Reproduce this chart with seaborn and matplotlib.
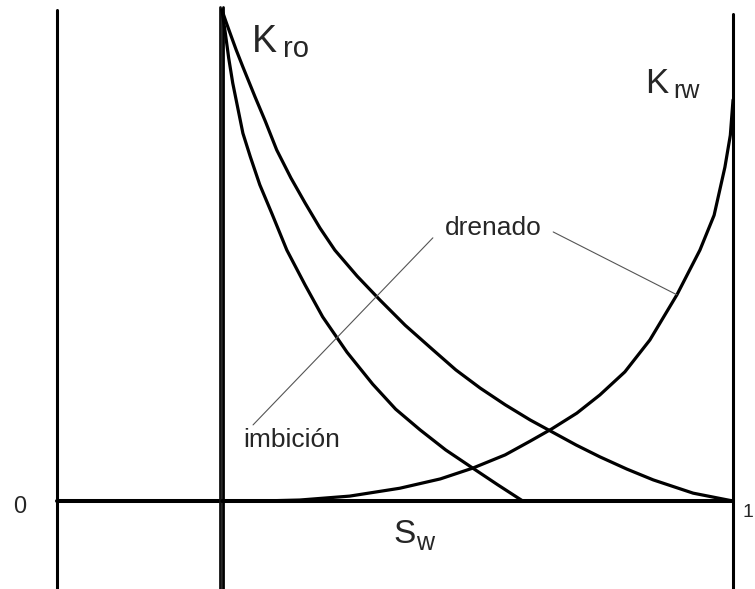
import matplotlib
matplotlib.use("Agg")
import matplotlib.pyplot as plt
import seaborn as sns
import pandas as pd

# saturacion de agua irreducible
swi = 0.243

# Kro drenado
sw_dren = [0.244, 0.250, 0.256, 0.265, 0.275, 0.293, 0.308, 0.325, 0.346, 0.367, 0.389, 0.411,
           0.444, 0.478, 0.515, 0.556, 0.590, 0.626, 0.663, 0.700, 0.732, 0.768, 0.803, 0.843,
           0.882, 0.941, 1.000]
kro_dren = [1.000, 0.976, 0.953, 0.919, 0.884, 0.823, 0.774, 0.715, 0.658, 0.607, 0.556, 0.511,
            0.458, 0.409, 0.358, 0.308, 0.267, 0.230, 0.196, 0.165, 0.141, 0.114, 0.090, 0.065,
            0.043, 0.016, 0.000]

# Kro imbicion
sw_imb = [0.244, 0.249, 0.254, 0.260, 0.275, 0.286, 0.300, 0.318, 0.340, 0.367, 0.393, 0.429,
          0.467, 0.501, 0.537, 0.575, 0.615, 0.652, 0.689]
kro_imb = [1.000, 0.953, 0.902, 0.851, 0.749, 0.701, 0.644, 0.585, 0.511, 0.440, 0.375, 0.303,
           0.238, 0.187, 0.145, 0.104, 0.067, 0.033, 0.000]

# Krw
sw_w = [0.244, 0.300, 0.359, 0.433, 0.507, 0.567, 0.615, 0.663, 0.700, 0.732, 0.769, 0.803,
        0.840, 0.877, 0.917, 0.951, 0.972, 0.988, 0.996, 1.000]
krw = [0.000, 0.000, 0.002, 0.010, 0.026, 0.045, 0.067, 0.094, 0.122, 0.147, 0.179, 0.216,
       0.263, 0.328, 0.420, 0.511, 0.582, 0.680, 0.745, 0.817]

sns.set_style("white")
plt.rcParams['font.family'] = ['Liberation Sans', 'DejaVu Sans']

fig = plt.figure(figsize=(7.55, 5.89), dpi=100)
ax = fig.add_axes([0, 0, 1, 1])
ax.set_xlim(-0.0843, 1.0325)
ax.set_ylim(-0.1792, 1.0204)
ax.axis('off')

# ejes
ax.plot([0, 0], [-0.2, 1.0], color='black', lw=2.2)
ax.plot([0, 1], [0, 0], color='black', lw=2.9)
ax.plot([1, 1], [-0.2, 0.992], color='black', lw=2.2)
ax.plot([swi - 0.0025, swi - 0.0025], [-0.2, 1.006], color='#111111', lw=2.0)
ax.plot([swi + 0.0025, swi + 0.0025], [-0.2, 1.006], color='black', lw=2.0)

# curvas
df_dren = pd.DataFrame({'Sw': sw_dren, 'K': kro_dren})
df_imb = pd.DataFrame({'Sw': sw_imb, 'K': kro_imb})
df_w = pd.DataFrame({'Sw': sw_w, 'K': krw})
for df in [df_dren, df_imb, df_w]:
    sns.lineplot(data=df, x='Sw', y='K', sort=False, estimator=None,
                 color='black', lw=2.3, ax=ax)

# lineas guia
ax.plot([0.556, 0.290], [0.536, 0.155], color='#555555', lw=0.8)
ax.plot([0.734, sw_w[14]], [0.548, krw[14]], color='#555555', lw=0.8)

# textos
ax.text(0.2885, 0.9145, 'K', fontsize=27, va='baseline', ha='left')
ax.text(0.3343, 0.9043, 'ro', fontsize=21, va='baseline', ha='left')
ax.text(0.870, 0.831, 'K', fontsize=25, va='baseline', ha='left')
ax.text(0.911, 0.821, 'rw', fontsize=18, va='baseline', ha='left')
ax.text(0.574, 0.542, 'drenado', fontsize=19, va='baseline', ha='left')
ax.text(0.275, 0.110, 'imbición', fontsize=19, va='baseline', ha='left')
ax.text(-0.065, -0.0244, '0', fontsize=17, va='baseline', ha='left')
ax.text(1.0133, -0.0326, '1', fontsize=14, va='baseline', ha='left')
ax.text(0.497, -0.0855, 'S', fontsize=24, va='baseline', ha='left')
ax.text(0.531, -0.0998, 'w', fontsize=18, va='baseline', ha='left')

plt.savefig('out.png', dpi=100)
